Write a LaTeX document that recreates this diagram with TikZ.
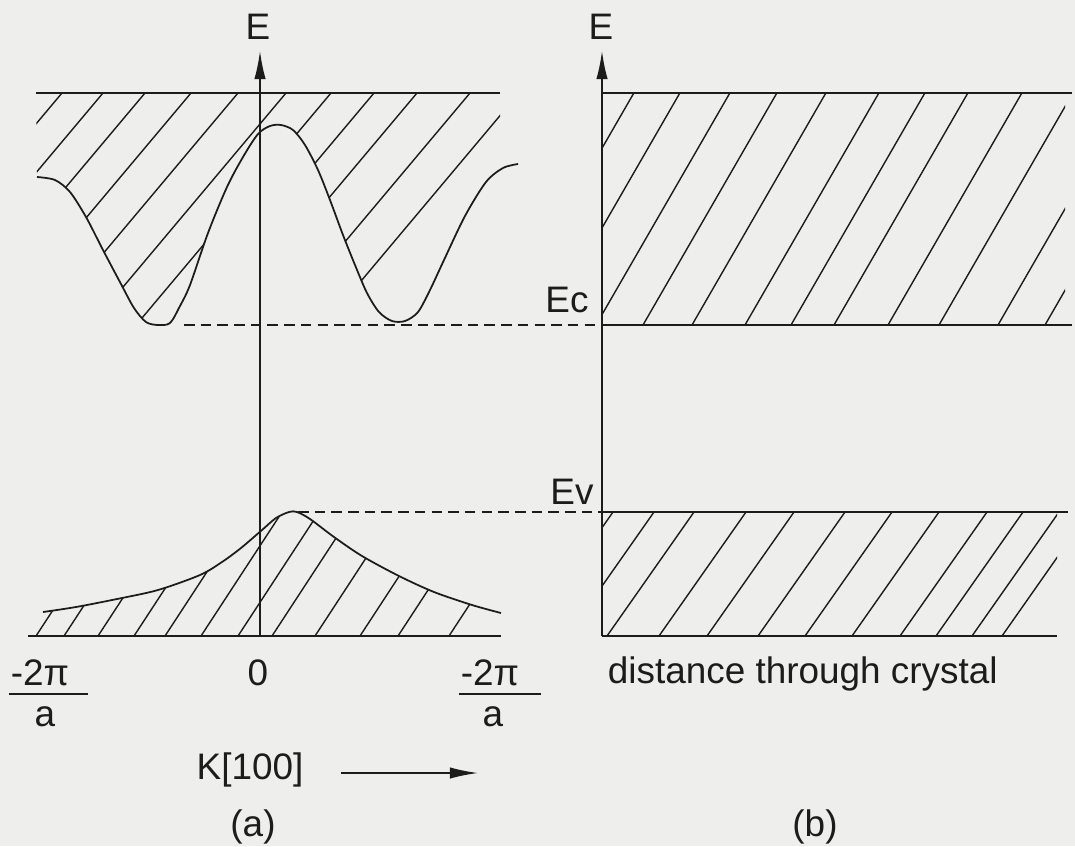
\documentclass[tikz,border=0pt]{standalone}
\usepackage{fontspec}
\setmainfont{Liberation Sans}
\usetikzlibrary{arrows.meta}
\definecolor{paper}{RGB}{238,238,237}
\definecolor{ink}{RGB}{28,28,28}

% band edges of panel (a), in pixel units of the figure
\newcommand{\condcurve}{plot[smooth] coordinates {(37,177) (55,180) (70,192) (86,217) (103,250) (121,284) (134,308) (146,322) (158,325) (170,323) (180,306) (190,285) (208,233) (227,187) (243,157) (258,134) (270,126) (281,125) (293,130) (305,145) (318,170) (330,200) (343,235) (355,265) (367,293) (379,312) (392,321) (405,321) (418,312) (430,290) (444,260) (465,216) (486,182) (503,168) (518,164)}}
\newcommand{\valcurve}{plot[smooth] coordinates {(43,612) (76,607) (117,599) (158,590) (200,575) (222,562) (241,548) (262,530) (276,518) (289,512) (297,512) (310,519) (334,537) (362,556) (399,576) (434,592) (472,605) (501,613)}}

\begin{document}
\begin{tikzpicture}[x=0.02cm,y=-0.02cm,>={Latex[length=16pt,width=6.5pt]},font=\fontsize{21}{25}\selectfont,line width=1pt,color=ink]
\tikzstyle{h}=[line width=0.8pt]
\tikzstyle{lvl}=[line width=0.9pt,dash pattern=on 6pt off 3.5pt]
\tikzstyle{t}=[inner sep=0pt]
\fill[paper] (0,0) rectangle (1075,846);
\useasboundingbox (0,0) rectangle (1075,846);

% (a) conduction band
\begin{scope}
\clip (36,85) rectangle (500,340);
\clip \condcurve -- (518,93) -- (36,93) -- cycle;
\foreach \t in {62,103,145,191,238,286,331,374,417,470,519} \draw[h] (\t,93) -- (\t-210,343);
\end{scope}
\draw (36,93) -- (500,93);
\draw \condcurve;

% (a) valence band
\begin{scope}
\clip \valcurve -- (501,636) -- (36,636) -- (36,612) -- cycle;
\foreach \b in {36,64,98,134,165,201,238,272,315,360,398,449} \draw[h] (\b,636) -- (\b+85,506);
\end{scope}
\draw (28,636) -- (501,636);
\draw \valcurve;

% (a) axis and labels
\node[t] (Ea) at (258,27) {E};
\coordinate (oa) at (260,636); \coordinate (ta) at (260,51);
\draw[->] (oa) -- (ta);
\node[t] (kl) at (40,673) {-2π};
\draw (9,694) -- (88,694);
\node[t] (al) at (45,717) {a};
\node[t] (k0) at (258,673) {0};
\node[t] (kr) at (490,673) {-2π};
\draw (459,694) -- (541,694);
\node[t] (ar) at (493,717) {a};
\node[t] (klab) at (250,770) {K[100]};
\coordinate (ks) at (341,773); \coordinate (ke) at (478,773);
\draw[->] (ks) -- (ke);
\node[t] (capa) at (253,827) {(a)};

% (b) bands
\begin{scope}
\clip (602,93) rectangle (1065,325);
\foreach \b in {500,546,596,643,692,745,791,834,888,939,998,1045} \draw[h] (\b,325) -- (\b+135,91);
\end{scope}
\begin{scope}
\clip (602,512) rectangle (1057,636);
\foreach \b in {526,567,607,659,707,758,805,852,900,936,972,1002} \draw[h] (\b,636) -- (\b+87,512);
\end{scope}
\coordinate (ob) at (602,636); \coordinate (tb) at (602,51);
\draw[->] (ob) -- (tb);
\node[t] (Eb) at (601,27) {E};
\draw (602,93) -- (1072,93);
\coordinate (ecb) at (602,325);
\draw (ecb) -- (1072,325);
\coordinate (evb) at (602,512);
\draw (evb) -- (1068,512);
\draw (ob) -- (1057,636);

% levels carried across
\coordinate (cmin) at (184,325);
\coordinate (vmax) at (298,512);
\draw[lvl] (cmin) -- (ecb);
\draw[lvl] (vmax) -- (evb);
\node[t] (Ec) at (567,300) {Ec};
\node[t] (Ev) at (572,492) {Ev};

\node[t,anchor=base west] (dist) at (607,683) {distance through crystal};
\node[t] (capb) at (815,827) {(b)};
\end{tikzpicture}
\end{document}
